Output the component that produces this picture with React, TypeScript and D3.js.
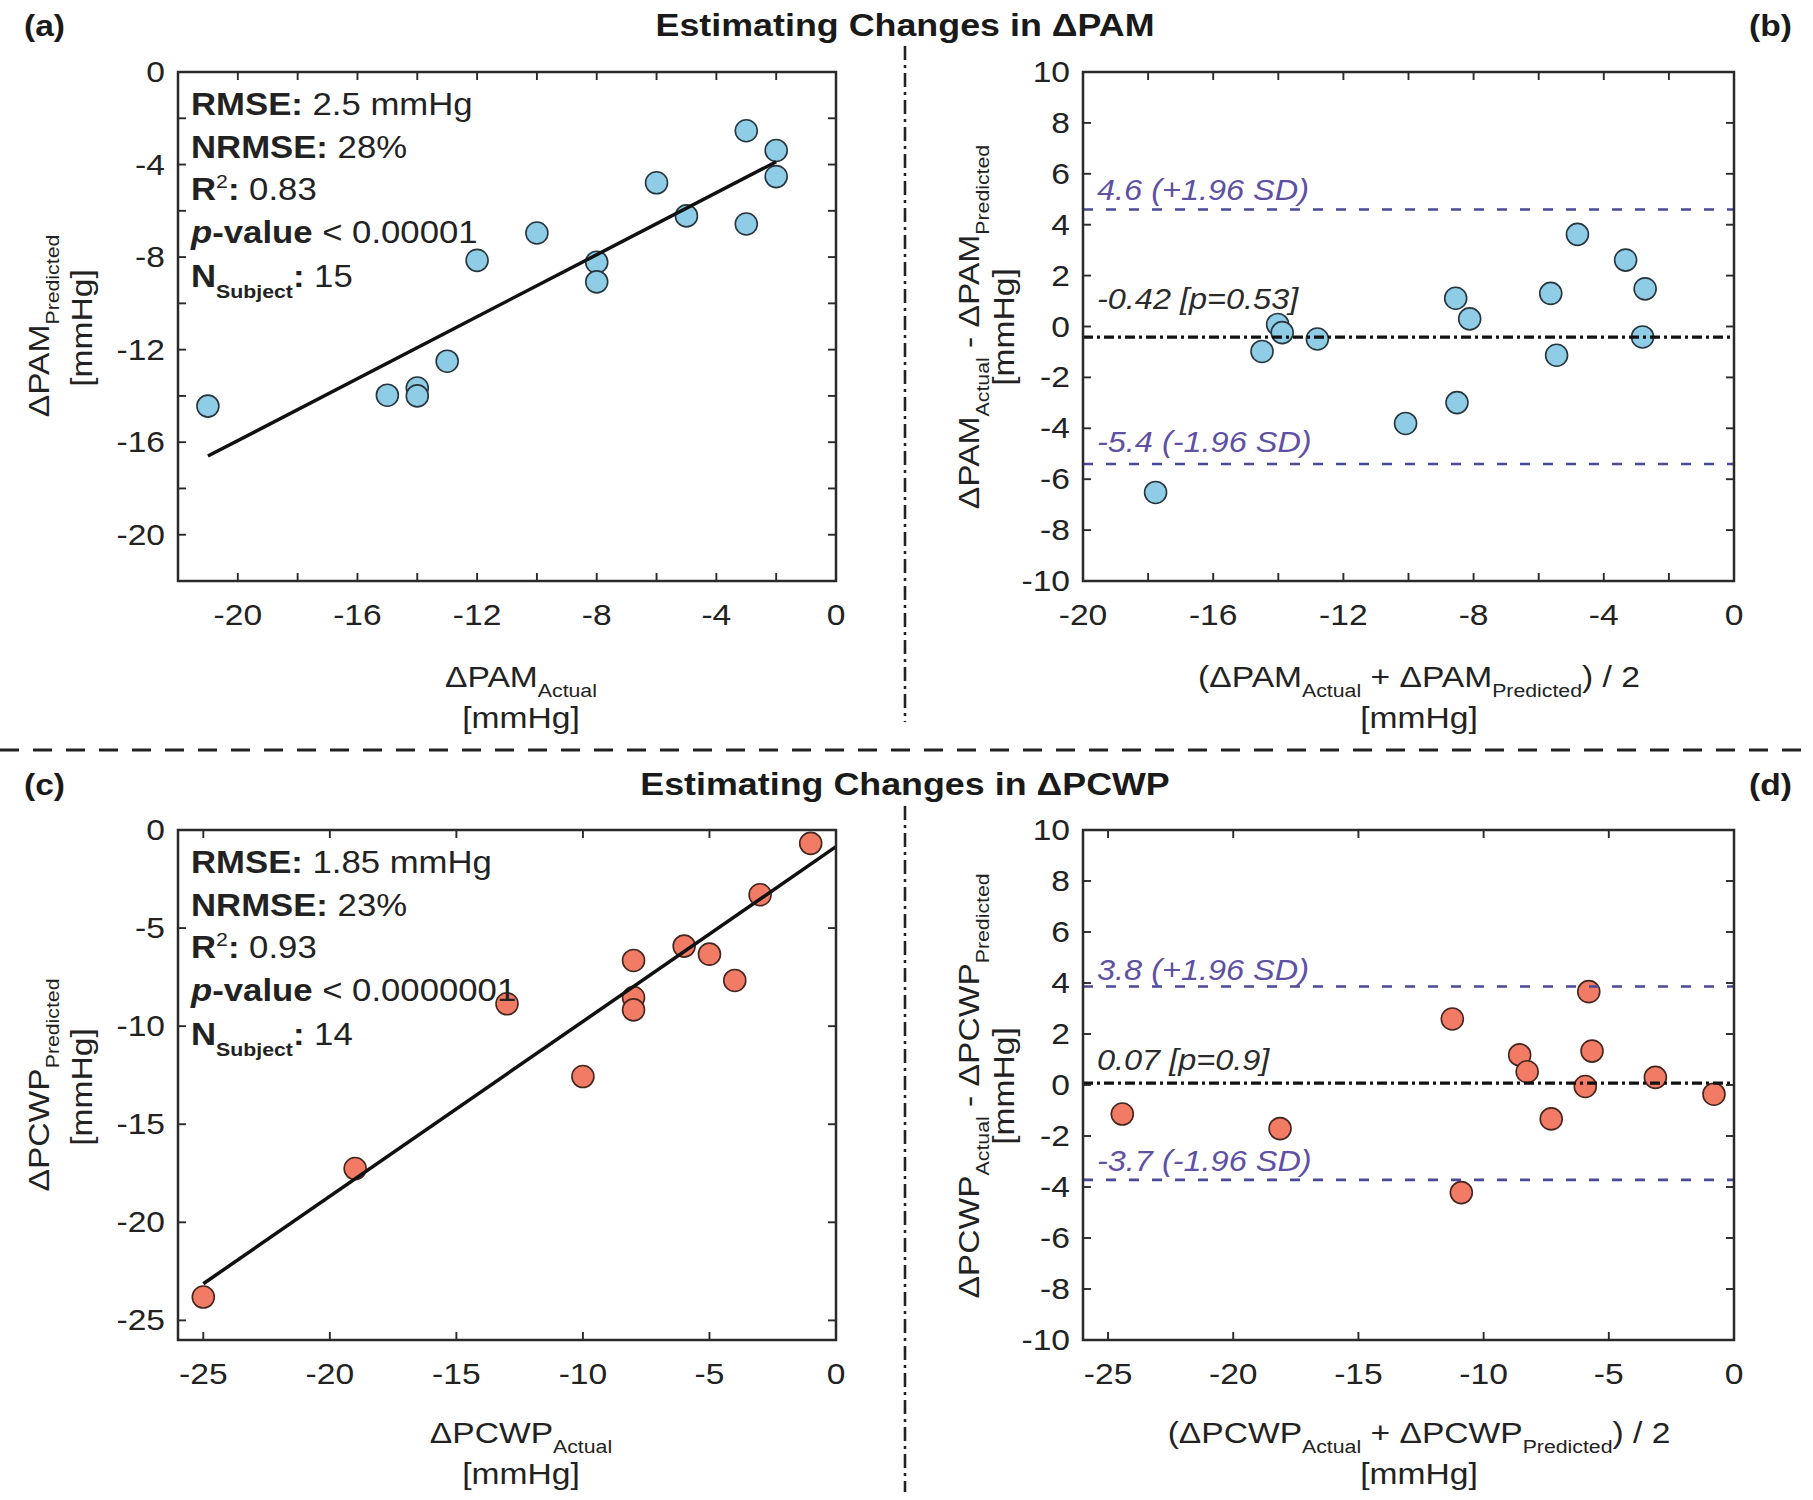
import React from 'react';
import * as d3 from 'd3';

// ---------------- DATA ----------------
// Panel (a): ΔPAM actual vs predicted
const pamActual = [-21, -15, -14, -14, -13, -12, -10, -8, -8, -6, -5, -3, -3, -2, -2];
const pamPredicted = [-14.44, -13.97, -13.66, -14.0, -12.5, -8.14, -6.96, -8.22, -9.07, -4.79, -6.22, -2.54, -6.57, -3.39, -4.52];
const pamFitX = [-21, -2];
const pamFitY = [-16.6, -3.88];
// Panel (b): Bland-Altman ΔPAM
const pamMean = [-17.77, -14.5, -14.02, -13.88, -12.8, -10.09, -8.55, -8.51, -8.12, -5.63, -5.45, -4.81, -3.33, -2.73, -2.81];
const pamDiff = [-6.52, -0.98, 0.08, -0.24, -0.49, -3.81, 1.11, -2.99, 0.3, 1.3, -1.13, 3.62, 2.61, 1.48, -0.41];
const pamLimits = [4.6, -0.42, -5.4];
const pamLimitLabels = ['4.6 (+1.96 SD)', '-0.42 [p=0.53]', '-5.4 (-1.96 SD)'];
const pamStatsValues = [' 2.5 mmHg', ' 28%', ' 0.83', ' < 0.00001', ' 15'];

// Panel (c): ΔPCWP actual vs predicted
const pcwpActual = [-25, -19, -13, -10, -8, -8, -8, -6, -5, -4, -3, -1];
const pcwpPredicted = [-23.81, -17.26, -8.86, -12.57, -6.65, -8.54, -9.17, -5.92, -6.33, -7.67, -3.3, -0.68];
const pcwpFitX = [-25, 0];
const pcwpFitY = [-23.13, -0.85];
// Panel (d): Bland-Altman ΔPCWP
const pcwpMean = [-24.43, -18.13, -11.25, -10.89, -8.56, -8.26, -7.3, -5.94, -5.8, -5.67, -3.14, -0.8];
const pcwpDiff = [-1.14, -1.71, 2.59, -4.22, 1.18, 0.52, -1.33, -0.06, 3.66, 1.33, 0.3, -0.36];
const pcwpLimits = [3.86, 0.07, -3.72];
const pcwpLimitLabels = ['3.8 (+1.96 SD)', '0.07 [p=0.9]', '-3.7 (-1.96 SD)'];
const pcwpStatsValues = [' 1.85 mmHg', ' 23%', ' 0.93', ' < 0.0000001', ' 14'];

// Ticks
const aXTicks = [-22, -20, -18, -16, -14, -12, -10, -8, -6, -4, -2, 0];
const aXLabels = [-20, -16, -12, -8, -4, 0];
const aYTicks = [-22, -20, -18, -16, -14, -12, -10, -8, -6, -4, -2, 0];
const aYLabels = [-20, -16, -12, -8, -4, 0];
const bXTicks = [-20, -18, -16, -14, -12, -10, -8, -6, -4, -2, 0];
const bXLabels = [-20, -16, -12, -8, -4, 0];
const baYTicks = [-10, -8, -6, -4, -2, 0, 2, 4, 6, 8, 10];
const cTicks = [-25, -20, -15, -10, -5, 0];

const titles = ['Estimating Changes in ΔPAM', 'Estimating Changes in ΔPCWP'];
const panelTags = ['(a)', '(b)', '(c)', '(d)'];

// ---------------- STYLE ----------------
const W = 1813;
const H = 1500;
const FONT = "'Liberation Sans', Arial, Helvetica, sans-serif";
const SX = 1.12;
const TXT = '#222';
const BLUE = '#8fcce6';
const BLUE_EDGE = '#27363e';
const RED = '#f27b66';
const RED_EDGE = '#45261f';
const LOA = '#4a4a98';
const LOA_TXT = '#5e50a2';
const TL = 8;

const xA = d3.scaleLinear().domain([-22, 0]).range([178, 836]);
const yA = d3.scaleLinear().domain([-22, 0]).range([581, 72]);
const xB = d3.scaleLinear().domain([-20, 0]).range([1083, 1734]);
const yB = d3.scaleLinear().domain([-10, 10]).range([581, 72]);
const xC = d3.scaleLinear().domain([-26, 0]).range([178, 836]);
const yC = d3.scaleLinear().domain([-26, 0]).range([1340, 830]);
const xD = d3.scaleLinear().domain([-26, 0]).range([1083, 1734]);
const yD = d3.scaleLinear().domain([-10, 10]).range([1340, 830]);

type TP = {
  x: number; y: number; rot?: number; anchor?: string; size?: number;
  weight?: string; italic?: boolean; fill?: string; children?: React.ReactNode;
};
function Txt({ x, y, rot = 0, anchor = 'start', size = 30, weight = 'normal', italic = false, fill = TXT, children }: TP) {
  return (
    <text
      transform={`translate(${x},${y})${rot ? ` rotate(${rot})` : ''} scale(${SX},1)`}
      textAnchor={anchor as any}
      fontSize={size}
      fontWeight={weight}
      fontStyle={italic ? 'italic' : 'normal'}
      fill={fill}
      fontFamily={FONT}
    >
      {children}
    </text>
  );
}

function Frame({ xs, ys, xTicks, xLabels, yTicks, yLabels }: any) {
  const [x0, x1] = xs.range();
  const [y1, y0] = ys.range();
  return (
    <g>
      <g stroke="#2a2a2a" strokeWidth={1.9}>
        {xTicks.map((t: number) => (
          <g key={'xt' + t}>
            <line x1={xs(t)} x2={xs(t)} y1={y1} y2={y1 - TL} />
            <line x1={xs(t)} x2={xs(t)} y1={y0} y2={y0 + TL} />
          </g>
        ))}
        {yTicks.map((t: number) => (
          <g key={'yt' + t}>
            <line x1={x0} x2={x0 + TL} y1={ys(t)} y2={ys(t)} />
            <line x1={x1} x2={x1 - TL} y1={ys(t)} y2={ys(t)} />
          </g>
        ))}
      </g>
      {xLabels.map((t: number) => (
        <Txt key={'xl' + t} x={xs(t)} y={y1 + 44} anchor="middle">{String(t)}</Txt>
      ))}
      {yLabels.map((t: number) => (
        <Txt key={'yl' + t} x={x0 - 13} y={ys(t) + 10} anchor="end">{String(t)}</Txt>
      ))}
      <rect x={x0} y={y0} width={x1 - x0} height={y1 - y0} fill="none" stroke="#2a2a2a" strokeWidth={2.5} />
    </g>
  );
}

function Dots({ xs, ys, xv, yv, fill, edge }: any) {
  return (
    <g>
      {xv.map((v: number, i: number) => (
        <circle key={i} cx={xs(v)} cy={ys(yv[i])} r={11} fill={fill} stroke={edge} strokeWidth={1.6} />
      ))}
    </g>
  );
}

function Stats({ x, y, values }: any) {
  const dy = [43, 86, 128, 171, 215];
  return (
    <g>
      <Txt x={x} y={y + dy[0]} size={31}><tspan fontWeight="bold">RMSE:</tspan>{values[0]}</Txt>
      <Txt x={x} y={y + dy[1]} size={31}><tspan fontWeight="bold">NRMSE:</tspan>{values[1]}</Txt>
      <Txt x={x} y={y + dy[2]} size={31}>
        <tspan fontWeight="bold">R</tspan>
        <tspan fontSize={19} dy={-12}>2</tspan>
        <tspan fontWeight="bold" dy={12}>:</tspan>{values[2]}
      </Txt>
      <Txt x={x} y={y + dy[3]} size={31}>
        <tspan fontWeight="bold" fontStyle="italic">p</tspan>
        <tspan fontWeight="bold">-value</tspan>{values[3]}
      </Txt>
      <Txt x={x} y={y + dy[4]} size={31}>
        <tspan fontWeight="bold">N</tspan>
        <tspan fontWeight="bold" fontSize={19} dy={11}>Subject</tspan>
        <tspan fontWeight="bold" dy={-11}>:</tspan>{values[4]}
      </Txt>
    </g>
  );
}

function FitLine({ xs, ys, fx, fy }: any) {
  const line = d3.line<number>().x((d, i) => xs(fx[i])).y((d, i) => ys(fy[i]));
  return <path d={line(fx) || ''} fill="none" stroke="#111" strokeWidth={3.5} />;
}

function Limits({ xs, ys, vals, labels, offs }: any) {
  const [x0, x1] = xs.range();
  return (
    <g>
      <line x1={x0} x2={x1} y1={ys(vals[0])} y2={ys(vals[0])} stroke={LOA} strokeWidth={2.6} strokeDasharray="10,13" />
      <line x1={x0} x2={x1} y1={ys(vals[2])} y2={ys(vals[2])} stroke={LOA} strokeWidth={2.6} strokeDasharray="10,13" />
      <line x1={x0} x2={x1} y1={ys(vals[1])} y2={ys(vals[1])} stroke="#111" strokeWidth={3.2} strokeDasharray="10,4,3,4" />
      <Txt x={x0 + 14} y={ys(vals[0]) + offs[0]} size={29} italic fill={LOA_TXT}>{labels[0]}</Txt>
      <Txt x={x0 + 14} y={ys(vals[1]) + offs[1]} size={29} italic fill="#2a2a2a">{labels[1]}</Txt>
      <Txt x={x0 + 14} y={ys(vals[2]) + offs[2]} size={29} italic fill={LOA_TXT}>{labels[2]}</Txt>
    </g>
  );
}

function SubLabel({ x, y, rot = 0, parts }: any) {
  let down = false;
  return (
    <Txt x={x} y={y} rot={rot} anchor="middle" size={30}>
      {parts.map((p: [string, boolean], i: number) => {
        const [s, sub] = p;
        let dy = 0;
        if (sub && !down) { dy = 10; down = true; }
        else if (!sub && down) { dy = -10; down = false; }
        return (
          <tspan key={i} fontSize={sub ? 19 : 30} dy={dy}>{s}</tspan>
        );
      })}
    </Txt>
  );
}

export default function App() {
  const row2 = 759;
  return (
    <svg
      width={W}
      height={H}
      viewBox={`0 0 ${W} ${H}`}
      style={{ position: 'absolute', left: 0, top: 0, background: '#fff', display: 'block' }}
    >
      <rect x={0} y={0} width={W} height={H} fill="#fff" />

      {/* separators */}
      <line x1={0} x2={W} y1={750} y2={750} stroke="#222" strokeWidth={3} strokeDasharray="19,14" />
      <line x1={905} x2={905} y1={46} y2={722} stroke="#222" strokeWidth={2.6} strokeDasharray="14,5,3,5" />
      <line x1={905} x2={905} y1={806} y2={1492} stroke="#222" strokeWidth={2.6} strokeDasharray="14,5,3,5" />

      {/* titles and tags */}
      <Txt x={905} y={36} anchor="middle" size={32} weight="bold" fill="#1a1a1a">{titles[0]}</Txt>
      <Txt x={905} y={36 + row2} anchor="middle" size={32} weight="bold" fill="#1a1a1a">{titles[1]}</Txt>
      <Txt x={24} y={36} size={30} weight="bold" fill="#1a1a1a">{panelTags[0]}</Txt>
      <Txt x={1792} y={36} anchor="end" size={30} weight="bold" fill="#1a1a1a">{panelTags[1]}</Txt>
      <Txt x={24} y={36 + row2} size={30} weight="bold" fill="#1a1a1a">{panelTags[2]}</Txt>
      <Txt x={1792} y={36 + row2} anchor="end" size={30} weight="bold" fill="#1a1a1a">{panelTags[3]}</Txt>

      {/* Panel (a) */}
      <Dots xs={xA} ys={yA} xv={pamActual} yv={pamPredicted} fill={BLUE} edge={BLUE_EDGE} />
      <FitLine xs={xA} ys={yA} fx={pamFitX} fy={pamFitY} />
      <Stats x={191} y={72} values={pamStatsValues} />
      <Frame xs={xA} ys={yA} xTicks={aXTicks} xLabels={aXLabels} yTicks={aYTicks} yLabels={aYLabels} />
      <SubLabel x={521} y={687} parts={[['ΔPAM', false], ['Actual', true]]} />
      <Txt x={521} y={728} anchor="middle" size={30}>[mmHg]</Txt>
      <SubLabel x={49} y={326} rot={-90} parts={[['ΔPAM', false], ['Predicted', true]]} />
      <Txt x={92} y={328} rot={-90} anchor="middle" size={30}>[mmHg]</Txt>

      {/* Panel (b) */}
      <Dots xs={xB} ys={yB} xv={pamMean} yv={pamDiff} fill={BLUE} edge={BLUE_EDGE} />
      <Limits xs={xB} ys={yB} vals={pamLimits} labels={pamLimitLabels} offs={[-9, -28, -12]} />
      <Frame xs={xB} ys={yB} xTicks={bXTicks} xLabels={bXLabels} yTicks={baYTicks} yLabels={baYTicks} />
      <SubLabel x={1419} y={687} parts={[['(ΔPAM', false], ['Actual', true], [' + ΔPAM', false], ['Predicted', true], [') / 2', false]]} />
      <Txt x={1419} y={728} anchor="middle" size={30}>[mmHg]</Txt>
      <SubLabel x={979} y={327} rot={-90} parts={[['ΔPAM', false], ['Actual', true], [' - ΔPAM', false], ['Predicted', true]]} />
      <Txt x={1014} y={327} rot={-90} anchor="middle" size={30}>[mmHg]</Txt>

      {/* Panel (c) */}
      <Dots xs={xC} ys={yC} xv={pcwpActual} yv={pcwpPredicted} fill={RED} edge={RED_EDGE} />
      <FitLine xs={xC} ys={yC} fx={pcwpFitX} fy={pcwpFitY} />
      <Stats x={191} y={830} values={pcwpStatsValues} />
      <Frame xs={xC} ys={yC} xTicks={cTicks} xLabels={cTicks} yTicks={cTicks} yLabels={cTicks} />
      <SubLabel x={521} y={687 + row2 - 3} parts={[['ΔPCWP', false], ['Actual', true]]} />
      <Txt x={521} y={728 + row2 - 3} anchor="middle" size={30}>[mmHg]</Txt>
      <SubLabel x={49} y={1085} rot={-90} parts={[['ΔPCWP', false], ['Predicted', true]]} />
      <Txt x={92} y={1087} rot={-90} anchor="middle" size={30}>[mmHg]</Txt>

      {/* Panel (d) */}
      <Dots xs={xD} ys={yD} xv={pcwpMean} yv={pcwpDiff} fill={RED} edge={RED_EDGE} />
      <Limits xs={xD} ys={yD} vals={pcwpLimits} labels={pcwpLimitLabels} offs={[-7, -13, -9]} />
      <Frame xs={xD} ys={yD} xTicks={cTicks} xLabels={cTicks} yTicks={baYTicks} yLabels={baYTicks} />
      <SubLabel x={1419} y={687 + row2 - 3} parts={[['(ΔPCWP', false], ['Actual', true], [' + ΔPCWP', false], ['Predicted', true], [') / 2', false]]} />
      <Txt x={1419} y={728 + row2 - 3} anchor="middle" size={30}>[mmHg]</Txt>
      <SubLabel x={979} y={1086} rot={-90} parts={[['ΔPCWP', false], ['Actual', true], [' - ΔPCWP', false], ['Predicted', true]]} />
      <Txt x={1014} y={1086} rot={-90} anchor="middle" size={30}>[mmHg]</Txt>
    </svg>
  );
}
